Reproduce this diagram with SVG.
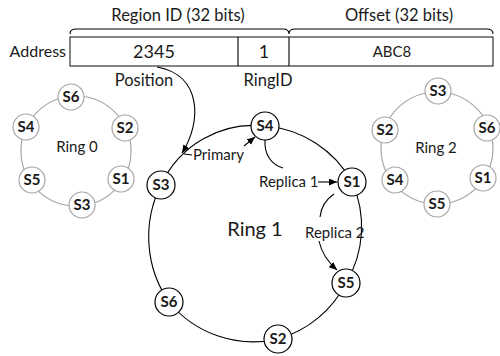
<svg xmlns="http://www.w3.org/2000/svg" width="500" height="356" viewBox="0 0 500 356">
<style>
  text { font-family: Lato, "Liberation Sans", sans-serif; fill: #1a1a1a; }
  .lbl { font-size: 15px; }
  .hdr { font-size: 16.5px; text-anchor: middle; }
  .big { font-size: 18px; text-anchor: middle; }
  .mid { font-size: 15px; text-anchor: middle; }
  .rl { font-size: 15px; text-anchor: middle; }
  .sn { font-size: 15px; font-weight: bold; text-anchor: middle; }
  .ring { fill: none; stroke: #a6a6a6; stroke-width: 1.2; }
  .gnode circle { fill: #fff; stroke: #a6a6a6; stroke-width: 1.2; }
  .bnode circle { fill: #fff; stroke: #000; stroke-width: 1.2; }
  .ln { fill: none; stroke: #000; stroke-width: 1.1; }
  .box { fill: #fff; stroke: #222; stroke-width: 1.1; }
</style>
<defs>
  <marker id="ah" markerUnits="userSpaceOnUse" markerWidth="9" markerHeight="8" refX="8" refY="3.5" orient="auto">
    <path d="M0,0 L8,3.5 L0,7 z" fill="#000"/>
  </marker>
</defs>
<rect width="500" height="356" fill="#fff"/>

<g id="address">
  <text class="hdr" x="178" y="21">Region ID (32 bits)</text>
  <text class="hdr" x="399" y="21">Offset (32 bits)</text>
  <path class="ln" d="M70,34 Q70,29 76,29 L283,29 Q289,29 289,34 Q289,29 295,29 L487,29 Q493,29 493,34"/>
  <text x="66" y="57" text-anchor="end" style="font-size:16px">Address</text>
  <rect class="box" x="70" y="37" width="423" height="29"/>
  <line class="ln" x1="238" y1="37" x2="238" y2="66"/>
  <line class="ln" x1="289" y1="37" x2="289" y2="66"/>
  <text class="big" x="154" y="58">2345</text>
  <text class="big" x="264" y="58">1</text>
  <text class="mid" x="392" y="57">ABC8</text>
  <text class="hdr" x="144" y="86">Position</text>
  <text class="hdr" x="268" y="86">RingID</text>
</g>

<g id="ring0">
  <circle class="ring" cx="76" cy="151" r="55"/>
  <text class="rl" x="77" y="152">Ring 0</text>
  <g class="gnode" id="r0-s6"><circle cx="71" cy="97" r="13"/><text class="sn" x="71" y="102">S6</text></g>
  <g class="gnode" id="r0-s4"><circle cx="26" cy="127" r="13"/><text class="sn" x="26" y="132">S4</text></g>
  <g class="gnode" id="r0-s2"><circle cx="125" cy="128" r="13"/><text class="sn" x="125" y="133">S2</text></g>
  <g class="gnode" id="r0-s5"><circle cx="32" cy="180" r="13"/><text class="sn" x="32" y="185">S5</text></g>
  <g class="gnode" id="r0-s1"><circle cx="121" cy="179" r="13"/><text class="sn" x="121" y="184">S1</text></g>
  <g class="gnode" id="r0-s3"><circle cx="82" cy="205" r="13"/><text class="sn" x="82" y="210">S3</text></g>
</g>

<g id="ring2">
  <circle class="ring" cx="437" cy="148" r="56"/>
  <text class="rl" x="436" y="153">Ring 2</text>
  <g class="gnode" id="r2-s3"><circle cx="438" cy="91" r="13"/><text class="sn" x="438" y="96">S3</text></g>
  <g class="gnode" id="r2-s2"><circle cx="385" cy="130" r="13"/><text class="sn" x="385" y="135">S2</text></g>
  <g class="gnode" id="r2-s6"><circle cx="487" cy="128" r="13"/><text class="sn" x="487" y="133">S6</text></g>
  <g class="gnode" id="r2-s4"><circle cx="395" cy="180" r="13"/><text class="sn" x="395" y="185">S4</text></g>
  <g class="gnode" id="r2-s1"><circle cx="483" cy="178" r="13"/><text class="sn" x="483" y="183">S1</text></g>
  <g class="gnode" id="r2-s5"><circle cx="437" cy="204" r="13"/><text class="sn" x="437" y="209">S5</text></g>
</g>

<g id="connectors">
  <path class="ln" d="M265,126 A109,109 0 0 1 352,182 A109,109 0 0 1 346,283 A109,109 0 0 1 278,339 A109,109 0 0 1 169,302 A115,115 0 0 1 161,185 A102,102 0 0 1 265,126"/>
  <path class="ln" d="M157,67 C202,75 202,122 182,153" marker-end="url(#ah)"/>
  <line class="ln" x1="192" y1="155" x2="184" y2="154"/>
  <line class="ln" x1="244" y1="146" x2="255" y2="137" marker-end="url(#ah)"/>
  <path class="ln" d="M265,140 C264,155 272,165 283,168"/>
  <line class="ln" x1="318" y1="182" x2="337" y2="182" marker-end="url(#ah)"/>
  <path class="ln" d="M334,194 C325,200 321,208 320,217"/>
  <path class="ln" d="M319,241 C322,255 329,263 337,270" marker-end="url(#ah)"/>
</g>

<g id="ring1-labels">
  <text class="lbl" x="193" y="160">Primary</text>
  <text class="lbl" x="259" y="187">Replica 1</text>
  <text class="lbl" x="305" y="238">Replica 2</text>
  <text class="big" x="255" y="236" style="font-size:20px">Ring 1</text>
</g>

<g id="ring1">
  <g class="bnode" id="r1-s4"><circle cx="265" cy="126" r="14"/><text class="sn" x="265" y="131">S4</text></g>
  <g class="bnode" id="r1-s3"><circle cx="161" cy="185" r="14"/><text class="sn" x="161" y="190">S3</text></g>
  <g class="bnode" id="r1-s1"><circle cx="352" cy="182" r="14"/><text class="sn" x="352" y="187">S1</text></g>
  <g class="bnode" id="r1-s5"><circle cx="346" cy="283" r="14"/><text class="sn" x="346" y="288">S5</text></g>
  <g class="bnode" id="r1-s6"><circle cx="169" cy="302" r="14"/><text class="sn" x="169" y="307">S6</text></g>
  <g class="bnode" id="r1-s2"><circle cx="278" cy="339" r="14"/><text class="sn" x="278" y="344">S2</text></g>
</g>
</svg>
